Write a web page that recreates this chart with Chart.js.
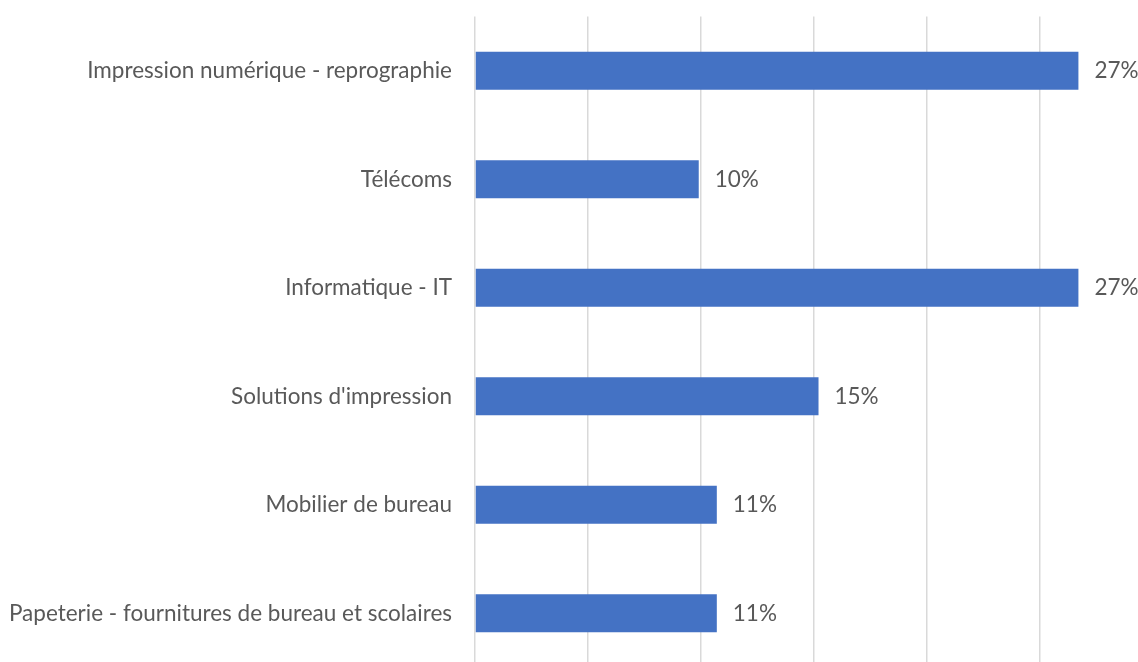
<!DOCTYPE html>
<html>
<head>
<meta charset="utf-8">
<script src="https://cdn.jsdelivr.net/npm/chart.js@4.4.1/dist/chart.umd.min.js"></script>
<style>
  html, body { margin: 0; padding: 0; background: #fff; overflow: hidden; }
  #wrap { position: absolute; left: 0; top: -20px; width: 1160px; height: 724px; }
</style>
</head>
<body>
<div id="wrap"><canvas id="chart"></canvas></div>
<script>
// catégories et parts (en %)
const categories = [
  "Impression numérique - reprographie",
  "Télécoms",
  "Informatique - IT",
  "Solutions d'impression",
  "Mobilier de bureau",
  "Papeterie - fournitures de bureau et scolaires"
];
const shares = [26.7, 9.9, 26.7, 15.2, 10.7, 10.7];
const axisMin = 0;
const axisMax = 30;
const axisStep = 5;

const textColor = "#595959";
const labelFont = { family: "Lato", size: 22.5 };

// étiquettes de valeur à droite des barres
const valueLabels = {
  id: "valueLabels",
  afterDatasetsDraw(chart) {
    const ctx = chart.ctx;
    const meta = chart.getDatasetMeta(0);
    ctx.save();
    ctx.fillStyle = textColor;
    ctx.font = labelFont.size + "px " + labelFont.family;
    ctx.textAlign = "left";
    ctx.textBaseline = "middle";
    meta.data.forEach((bar, i) => {
      const v = chart.data.datasets[0].data[i];
      ctx.fillText(Math.round(v) + "%", bar.x + 16, bar.y);
    });
    ctx.restore();
  }
};

new Chart(document.getElementById("chart"), {
  type: "bar",
  data: {
    labels: categories,
    datasets: [{
      data: shares,
      backgroundColor: "#4472C4",
      borderWidth: 0,
      categoryPercentage: 1,
      barPercentage: 0.35
    }]
  },
  options: {
    indexAxis: "y",
    responsive: true,
    maintainAspectRatio: false,
    animation: false,
    layout: { padding: { top: 16, right: 7, bottom: 0, left: 0 } },
    plugins: {
      legend: { display: false },
      tooltip: { enabled: false }
    },
    scales: {
      x: {
        min: axisMin,
        max: axisMax,
        ticks: { display: false, stepSize: axisStep },
        grid: { color: "#d9d9d9", lineWidth: 1.5, drawTicks: false },
        border: { display: false }
      },
      y: {
        ticks: { color: textColor, font: labelFont, padding: 23 },
        grid: { display: false, drawTicks: false },
        border: { display: false },
        afterFit(scale) { scale.width = 475; }
      }
    }
  },
  plugins: [valueLabels]
});
</script>
</body>
</html>
